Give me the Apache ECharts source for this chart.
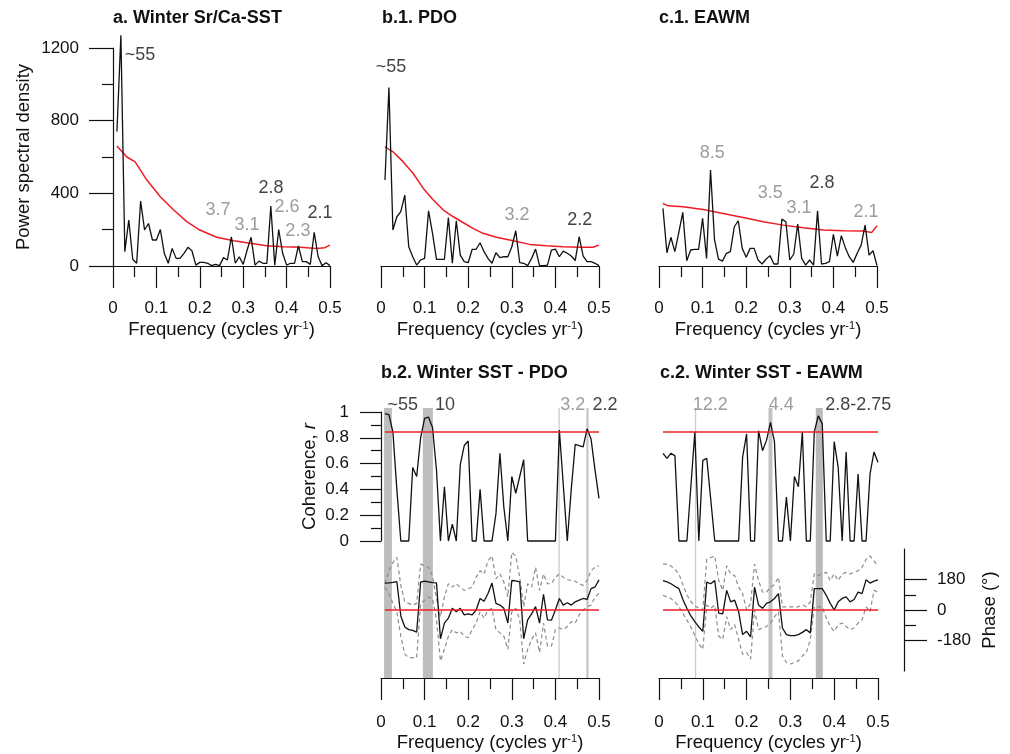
<!DOCTYPE html>
<html>
<head>
<meta charset="utf-8">
<script src="https://cdn.jsdelivr.net/npm/echarts@6/dist/echarts.min.js"></script>
<style>
html, body { margin: 0; padding: 0; background: #fff; }
#main { width: 1010px; height: 754px; }
</style>
</head>
<body>
<div id="main"></div>
<script>
// frequency grid of the spectra: k/110 cycles per year, k = 1..55
var freq = [];
for (var k = 1; k <= 55; k++) freq.push(k / 110);

// a. winter Sr/Ca-SST power spectrum
var psdSST = [740,1270,79,253,37,15,357,198,234,143, 143,201,70,15,97,42,42,70,103,84,
  5,20,20,15,2,9,2,46,33,161, 15,51,9,88,158,5,27,15,15,330,
  5,201,70,5,15,15,110,24,24,9, 185,51,2,18,2];
var redSSTf = [0.009,0.032,0.051,0.078,0.109,0.14,0.17,0.2,0.239,0.278,0.316,0.354,0.393,0.431,0.469,0.488,0.5];
var redSST  = [661,600,573,473,381,308,244,198,158,139,125,112,106,103,97,101,115];

// b.1 PDO power spectrum
var psdPDO = [473,982,198,271,299,390,106,51,5,33, 42,304,180,37,37,37,267,15,249,60,
  24,18,92,92,128,79,42,15,73,46, 51,51,106,194,18,15,2,42,93,2,
  2,5,88,93,51,82,70,55,30,161, 55,24,24,15,2];
var redPDOf = [0.009,0.028,0.051,0.074,0.097,0.12,0.143,0.166,0.189,0.211,0.234,0.265,0.303,0.341,0.379,0.418,0.456,0.486,0.5];
var redPDO  = [656,628,573,509,427,363,308,271,238,207,180,158,139,119,112,106,103,103,115];

// c.1 EAWM power spectrum
var psdEAWM = [317,73,158,79,185,295,29,88,92,92, 262,42,528,147,38,27,70,79,216,249,
  97,48,97,97,33,11,37,57,11,11, 258,244,33,66,231,42,5,33,5,304,
  11,15,24,174,55,167,101,51,20,70, 115,225,60,84,2];
var redEAWMf = [0.009,0.021,0.055,0.101,0.147,0.193,0.239,0.285,0.331,0.377,0.423,0.469,0.488,0.5];
var redEAWM  = [344,331,326,311,289,267,244,225,211,198,194,192,185,222];

// b.2 winter SST - PDO coherence and phase
var cohPDO = [0.987,0.98,0.845,0.4,0,0,0,0.57,0.5,0.8, 0.95,0.96,0.88,0.55,0,0.42,0,0.13,0,0.59,
  0.74,0.775,0,0,0.4,0,0,0,0.21,0.68, 0.26,0,0.5,0.37,0.5,0.63,0,0,0,0,
  0,0,0,0,0.86,0.43,0,0.4,0.75,0.74, 0.73,0.87,0.79,0.55,0.33];
var phPDO = [159,160,163,168,-35,-100,-116,-120,-131,164, 170,166,162,160,-170,-77,-48,10,-10,10,
  -29,-23,-29,0,68,52,97,159,39,29, 10,-77,174,172,166,-170,-58,-23,20,-77,
  93,-58,-60,0,68,29,43,29,48,58, 68,62,126,136,178];
var phPDOup = [155,232,280,310,145,48,39,29,39,271, 261,252,200,68,-39,77,155,135,155,135,
  116,125,135,193,232,213,290,319,184,213, 164,77,339,319,193,19,155,135,252,116,
  213,155,155,193,213,193,180,174,170,155, 145,174,232,252,261];
var phPDOlow = [135,97,39,-10,-155,-261,-281,-281,-281,39, 58,77,68,-58,-300,-232,-155,-116,-135,-126,
  -155,-164,-116,-77,-10,-48,0,10,-116,-135, -155,-232,-10,10,-58,-319,-232,-174,-135,-251,
  -77,-213,-213,-116,-106,-116,-97,-68,-77,-29, 0,19,29,77,97];
var sigPDO = 0.845;

// c.2 winter SST - EAWM coherence and phase
var cohEAWM = [0.68,0.64,0.68,0.66,0,0,0,0.42,0.845,0, 0.625,0.64,0.32,0,0,0,0,0,0,0,
  0.65,0.83,0,0,0.855,0.7,0.78,0.92,0.77,0, 0,0.34,0,0.5,0.42,0.845,0,0,0.845,0.97,
  0.91,0,0,0.77,0.57,0,0.69,0,0,0.52, 0,0,0.52,0.69,0.61];
var phEAWM = [174,166,155,140,126,62,10,-35,-68,-100, -126,164,155,174,-19,-23,116,48,58,-10,
  -145,-126,-159,135,29,10,39,48,68,97, -106,-145,-151,-151,-145,-132,-116,-135,126,126,
  126,87,39,0,48,68,77,48,62,106, 97,178,159,170,178];
var phEAWMup = [271,271,260,240,213,150,90,50,25,10, 0,300,310,319,174,116,261,213,203,135,
  97,0,39,271,174,106,106,135,150,193, 19,19,19,19,19,29,19,48,213,203,
  213,222,174,213,174,213,222,213,222,232, 252,300,319,290,261];
var phEAWMlow = [87,77,68,48,19,-20,-60,-100,-150,-200, -232,29,10,29,-155,-174,-39,-116,-87,-174,
  -261,-251,-290,0,-116,-106,-97,-77,-40,-10, -271,-310,-319,-310,-300,-271,-251,-174,19,19,
  19,-48,-97,-126,-87,-77,-97,-116,-106,-77, -58,19,-10,116,106];
var sigEAWM = 0.845;

// shaded periods: [from, to, colour]
var bandsPDO  = [[0.007,0.025,'#bdbdbd'],[0.096,0.119,'#bdbdbd'],[0.407,0.410,'#cccccc'],[0.471,0.476,'#c4c4c4']];
var bandsEAWM = [[0.082,0.085,'#cccccc'],[0.250,0.259,'#c2c2c2'],[0.358,0.374,'#bababa']];

// peak labels: text, freq, value, grey?
var labelsSST  = [['~55',0.062,1161,0],['3.7',0.242,308,1],['3.1',0.309,226,1],['2.8',0.364,429,0],
                  ['2.6',0.401,325,1],['2.3',0.426,193,1],['2.1',0.477,292,0]];
var labelsPDO  = [['~55',0.023,1096,0],['3.2',0.312,281,1],['2.2',0.456,253,0]];
var labelsEAWM = [['8.5',0.122,622,1],['3.5',0.255,402,1],['3.1',0.321,319,1],['2.8',0.374,457,0],['2.1',0.475,297,1]];
var labelsCohPDO  = [['~55',0.05,1.054,0],['10',0.147,1.054,0],['3.2',0.44,1.054,1],['2.2',0.514,1.054,0]];
var labelsCohEAWM = [['12.2',0.117,1.054,1],['4.4',0.279,1.054,1],['2.8-2.75',0.455,1.054,0]];

var font = 'Liberation Sans';
var black = '#111';
var grey = '#858585';
var red = '#ee1c25';

var chart = echarts.init(document.getElementById('main'));

var nameStyle = {
  fontSize: 18.5, color: black, fontFamily: font,
  rich: { sup: { fontSize: 11, fontFamily: font, color: black, verticalAlign: 'top', padding: [0, 0, 7, 0] },
          i: { fontSize: 18.5, fontFamily: font, color: black, fontStyle: 'italic' } }
};

function freqAxis(grid, show, margin, gap) {
  return {
    type: 'value', gridIndex: grid, min: 0, max: 0.5, interval: 0.1, show: show,
    position: 'bottom',
    axisLine: { show: true, onZero: false, lineStyle: { color: black, width: 1.2 } },
    axisTick: { show: true, length: 22, lineStyle: { color: black, width: 1.2 } },
    minorTick: { show: true, splitNumber: 2, length: 11, lineStyle: { color: black, width: 1.2 } },
    axisLabel: { margin: margin, fontSize: 17, color: black, fontFamily: font },
    splitLine: { show: false }, minorSplitLine: { show: false },
    name: 'Frequency (cycles yr{sup|-1})', nameLocation: 'middle', nameGap: gap,
    nameTextStyle: nameStyle
  };
}

function hiddenY(grid, min, max) {
  return { type: 'value', gridIndex: grid, min: min, max: max, show: false, splitLine: { show: false } };
}

function pairs(xs, ys) {
  return ys.map(function (v, i) { return [xs[i], v]; });
}

function line(grid, data, color, width, dashed, z) {
  return {
    type: 'line', xAxisIndex: grid, yAxisIndex: grid, data: data,
    showSymbol: false, symbol: 'none', clip: false, silent: true, z: z || 3,
    lineStyle: { color: color, width: width, type: dashed ? [4, 3] : 'solid' }
  };
}

function labels(grid, list) {
  return {
    type: 'scatter', xAxisIndex: grid, yAxisIndex: grid, symbolSize: 1, clip: false, silent: true, z: 5,
    itemStyle: { color: 'rgba(0,0,0,0)' },
    label: { show: true, position: 'inside', formatter: '{b}', fontSize: 18, fontFamily: font },
    data: list.map(function (l) {
      return { name: l[0], value: [l[1], l[2]], label: { color: l[3] ? grey : black } };
    })
  };
}

function bands(grid, list) {
  return {
    type: 'line', xAxisIndex: grid, yAxisIndex: grid, data: [], silent: true, z: 1,
    markArea: {
      silent: true,
      data: list.map(function (b) {
        return [{ xAxis: b[0], itemStyle: { color: b[2] } }, { xAxis: b[1] }];
      })
    }
  };
}

var titleStyle = { fontSize: 18, fontWeight: 'bold', color: black, fontFamily: font };

var option = {
  backgroundColor: '#fff',
  animation: false,
  textStyle: { fontFamily: font },
  title: [
    { text: 'a. Winter Sr/Ca-SST', left: 113, top: 9, padding: 0, textStyle: titleStyle },
    { text: 'b.1. PDO', left: 382, top: 9, padding: 0, textStyle: titleStyle },
    { text: 'c.1. EAWM', left: 659, top: 9, padding: 0, textStyle: titleStyle },
    { text: 'b.2. Winter SST - PDO', left: 381, top: 364, padding: 0, textStyle: titleStyle },
    { text: 'c.2. Winter SST - EAWM', left: 660, top: 364, padding: 0, textStyle: titleStyle }
  ],
  grid: [
    { left: 113, top: 48, width: 217, height: 218 },   // 0 a
    { left: 381, top: 48, width: 218, height: 218 },   // 1 b.1
    { left: 659, top: 48, width: 218, height: 218 },   // 2 c.1
    { left: 381, top: 412, width: 218, height: 129 },  // 3 b.2 coherence
    { left: 381, top: 549, width: 218, height: 122 },  // 4 b.2 phase
    { left: 381, top: 408, width: 218, height: 270 },  // 5 b.2 bands + freq axis
    { left: 659, top: 412, width: 219, height: 129 },  // 6 c.2 coherence
    { left: 659, top: 549, width: 219, height: 122 },  // 7 c.2 phase
    { left: 659, top: 408, width: 219, height: 270 }   // 8 c.2 bands + freq axis
  ],
  xAxis: [
    freqAxis(0, true, 34, 54),
    freqAxis(1, true, 34, 54),
    freqAxis(2, true, 34, 54),
    freqAxis(3, false, 34, 54),
    freqAxis(4, false, 34, 54),
    freqAxis(5, true, 36, 55),
    freqAxis(6, false, 34, 54),
    freqAxis(7, false, 34, 54),
    freqAxis(8, true, 36, 55)
  ],
  yAxis: [
    {
      type: 'value', gridIndex: 0, min: 0, max: 1200, interval: 400,
      axisLine: { show: true, onZero: false, lineStyle: { color: black, width: 1.2 } },
      axisTick: { show: true, length: 24, lineStyle: { color: black, width: 1.2 } },
      minorTick: { show: true, splitNumber: 2, length: 11, lineStyle: { color: black, width: 1.2 } },
      axisLabel: { margin: 34, fontSize: 17, color: black, fontFamily: font,
                   formatter: function (v) { return String(v); } },
      splitLine: { show: false }, minorSplitLine: { show: false },
      name: 'Power spectral density', nameLocation: 'middle', nameGap: 80, nameTextStyle: nameStyle
    },
    hiddenY(1, 0, 1200),
    hiddenY(2, 0, 1200),
    {
      type: 'value', gridIndex: 3, min: 0, max: 1, interval: 0.2,
      axisLine: { show: true, onZero: false, lineStyle: { color: black, width: 1.2 } },
      axisTick: { show: true, length: 21, lineStyle: { color: black, width: 1.2 } },
      minorTick: { show: true, splitNumber: 2, length: 10, lineStyle: { color: black, width: 1.2 } },
      axisLabel: { margin: 32, fontSize: 17, color: black, fontFamily: font },
      splitLine: { show: false }, minorSplitLine: { show: false },
      name: 'Coherence, {i|r}', nameLocation: 'middle', nameGap: 62, nameTextStyle: nameStyle
    },
    hiddenY(4, -360, 360),
    hiddenY(5, 0, 1),
    hiddenY(6, 0, 1),
    {
      type: 'value', gridIndex: 7, min: -360, max: 360, position: 'right', offset: 26,
      axisLine: { show: true, onZero: false, lineStyle: { color: black, width: 1.2 } },
      axisTick: { show: true, length: 23, customValues: [-180, 0, 180], lineStyle: { color: black, width: 1.2 } },
      axisLabel: { margin: 33, fontSize: 17, color: black, fontFamily: font, customValues: [-180, 0, 180] },
      splitLine: { show: false },
      name: 'Phase (°)', nameLocation: 'middle', nameGap: 76, nameTextStyle: nameStyle
    },
    hiddenY(8, 0, 1),
    {
      type: 'value', gridIndex: 7, min: -360, max: 360, position: 'right', offset: 26,
      axisLine: { show: false, onZero: false },
      axisTick: { show: true, length: 12, customValues: [-90, 90], lineStyle: { color: black, width: 1.2 } },
      axisLabel: { show: false },
      splitLine: { show: false }
    }
  ],
  series: [
    // a
    line(0, pairs(redSSTf, redSST), red, 1.5, false, 2),
    line(0, pairs(freq, psdSST), black, 1.3),
    labels(0, labelsSST),
    // b.1
    line(1, pairs(redPDOf, redPDO), red, 1.5, false, 2),
    line(1, pairs(freq, psdPDO), black, 1.3),
    labels(1, labelsPDO),
    // c.1
    line(2, pairs(redEAWMf, redEAWM), red, 1.5, false, 2),
    line(2, pairs(freq, psdEAWM), black, 1.3),
    labels(2, labelsEAWM),
    // b.2
    bands(5, bandsPDO),
    line(3, [[freq[0], sigPDO], [0.5, sigPDO]], red, 1.5, false, 4),
    line(3, pairs(freq, cohPDO), black, 1.3),
    labels(3, labelsCohPDO),
    line(4, pairs(freq, phPDOup), '#8c8c8c', 1.2, true),
    line(4, pairs(freq, phPDOlow), '#8c8c8c', 1.2, true),
    line(4, pairs(freq, phPDO), black, 1.3),
    line(4, [[freq[0], 0], [0.5, 0]], red, 1.5, false, 4),
    // c.2
    bands(8, bandsEAWM),
    line(6, [[freq[0], sigEAWM], [0.5, sigEAWM]], red, 1.5, false, 4),
    line(6, pairs(freq, cohEAWM), black, 1.3),
    labels(6, labelsCohEAWM),
    line(7, pairs(freq, phEAWMup), '#8c8c8c', 1.2, true),
    line(7, pairs(freq, phEAWMlow), '#8c8c8c', 1.2, true),
    line(7, pairs(freq, phEAWM), black, 1.3),
    line(7, [[freq[0], 0], [0.5, 0]], red, 1.5, false, 4)
  ]
};

chart.setOption(option);
</script>
</body>
</html>
